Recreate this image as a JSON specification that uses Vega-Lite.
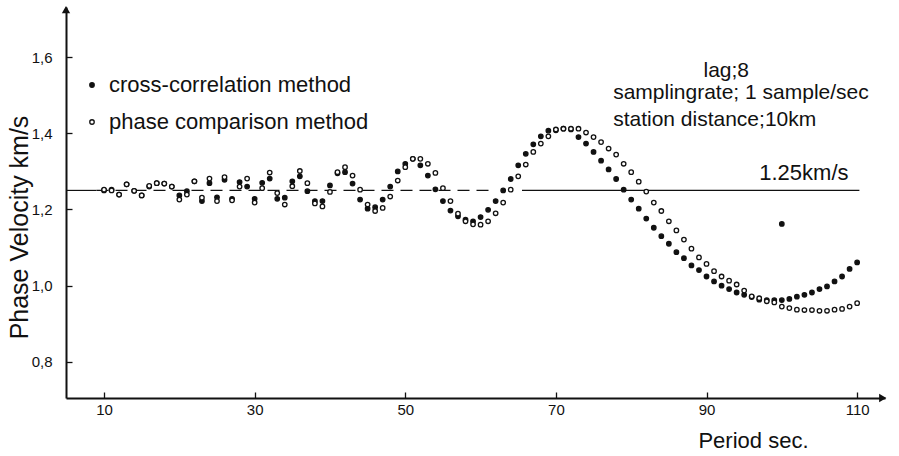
{
  "$schema": "https://vega.github.io/schema/vega-lite/v6.json",
  "width": 819,
  "height": 391,
  "autosize": {"type": "none"},
  "padding": {"left": 66, "top": 7, "right": 14, "bottom": 58},
  "background": "white",
  "config": {"view": {"stroke": null}, "font": "Liberation Sans"},
  "datasets": {
    "pts": [
      {"p":10,"cc":1.25,"pc":1.252},{"p":11,"cc":1.252,"pc":1.25},{"p":12,"cc":1.239,"pc":1.239},{"p":13,"cc":1.266,"pc":1.266},
      {"p":14,"cc":1.249,"pc":1.249},{"p":15,"cc":1.237,"pc":1.237},{"p":16,"cc":1.26,"pc":1.262},{"p":17,"cc":1.269,"pc":1.269},
      {"p":18,"cc":1.268,"pc":1.268},{"p":19,"cc":1.26,"pc":1.26},{"p":20,"cc":1.237,"pc":1.226},{"p":21,"cc":1.248,"pc":1.239},
      {"p":22,"cc":1.274,"pc":1.274},{"p":23,"cc":1.222,"pc":1.231},{"p":24,"cc":1.269,"pc":1.281},{"p":25,"cc":1.232,"pc":1.222},
      {"p":26,"cc":1.278,"pc":1.285},{"p":27,"cc":1.228,"pc":1.224},{"p":28,"cc":1.272,"pc":1.26},{"p":29,"cc":1.26,"pc":1.281},
      {"p":30,"cc":1.228,"pc":1.218},{"p":31,"cc":1.27,"pc":1.256},{"p":32,"cc":1.281,"pc":1.297},{"p":33,"cc":1.228,"pc":1.243},
      {"p":34,"cc":1.231,"pc":1.213},{"p":35,"cc":1.274,"pc":1.261},{"p":36,"cc":1.287,"pc":1.301},{"p":37,"cc":1.248,"pc":1.269},
      {"p":38,"cc":1.222,"pc":1.216},{"p":39,"cc":1.222,"pc":1.208},{"p":40,"cc":1.263,"pc":1.246},{"p":41,"cc":1.295,"pc":1.298},
      {"p":42,"cc":1.298,"pc":1.311},{"p":43,"cc":1.268,"pc":1.289},{"p":44,"cc":1.226,"pc":1.252},{"p":45,"cc":1.202,"pc":1.213},
      {"p":46,"cc":1.206,"pc":1.196},{"p":47,"cc":1.226,"pc":1.204},{"p":48,"cc":1.26,"pc":1.234},{"p":49,"cc":1.3,"pc":1.276},
      {"p":50,"cc":1.32,"pc":1.311},{"p":51,"cc":1.333,"pc":1.333},{"p":52,"cc":1.316,"pc":1.333},{"p":53,"cc":1.289,"pc":1.32},
      {"p":54,"cc":1.253,"pc":1.296},{"p":55,"cc":1.222,"pc":1.256},{"p":56,"cc":1.197,"pc":1.222},{"p":57,"cc":1.182,"pc":1.189},
      {"p":58,"cc":1.173,"pc":1.169},{"p":59,"cc":1.169,"pc":1.161},{"p":60,"cc":1.18,"pc":1.16},{"p":61,"cc":1.199,"pc":1.169},
      {"p":62,"cc":1.222,"pc":1.19},{"p":63,"cc":1.25,"pc":1.218},{"p":64,"cc":1.28,"pc":1.252},{"p":65,"cc":1.316,"pc":1.287},
      {"p":66,"cc":1.346,"pc":1.318},{"p":67,"cc":1.371,"pc":1.351},{"p":68,"cc":1.392,"pc":1.373},{"p":69,"cc":1.407,"pc":1.392},
      {"p":70,"cc":1.408,"pc":1.41},{"p":71,"cc":1.412,"pc":1.412},{"p":72,"cc":1.41,"pc":1.412},{"p":73,"cc":1.39,"pc":1.412},
      {"p":74,"cc":1.373,"pc":1.402},{"p":75,"cc":1.351,"pc":1.39},{"p":76,"cc":1.328,"pc":1.377},{"p":77,"cc":1.305,"pc":1.36},
      {"p":78,"cc":1.28,"pc":1.344},{"p":79,"cc":1.252,"pc":1.32},{"p":80,"cc":1.226,"pc":1.298},{"p":81,"cc":1.202,"pc":1.273},
      {"p":82,"cc":1.176,"pc":1.247},{"p":83,"cc":1.152,"pc":1.218},{"p":84,"cc":1.13,"pc":1.196},{"p":85,"cc":1.11,"pc":1.169},
      {"p":86,"cc":1.088,"pc":1.145},{"p":87,"cc":1.072,"pc":1.121},{"p":88,"cc":1.053,"pc":1.097},{"p":89,"cc":1.041,"pc":1.074},
      {"p":90,"cc":1.024,"pc":1.057},{"p":91,"cc":1.011,"pc":1.038},{"p":92,"cc":1.0,"pc":1.024},{"p":93,"cc":0.991,"pc":1.013},
      {"p":94,"cc":0.982,"pc":1.003},{"p":95,"cc":0.976,"pc":0.987},{"p":96,"cc":0.97,"pc":0.972},{"p":97,"cc":0.963,"pc":0.967},
      {"p":98,"cc":0.962,"pc":0.959},{"p":99,"cc":0.962,"pc":0.956},{"p":100,"cc":0.962,"pc":0.945},{"p":100,"cc":1.162},
      {"p":101,"cc":0.965,"pc":0.941},{"p":102,"cc":0.971,"pc":0.937},{"p":103,"cc":0.976,"pc":0.936},{"p":104,"cc":0.982,"pc":0.936},
      {"p":105,"cc":0.991,"pc":0.934},{"p":106,"cc":0.998,"pc":0.934},{"p":107,"cc":1.011,"pc":0.937},{"p":108,"cc":1.024,"pc":0.939},
      {"p":109,"cc":1.044,"pc":0.945},{"p":110,"cc":1.061,"pc":0.954}
    ],
    "solidref": [
      {"p":4.95,"p2":9,"v":1.25},
      {"p":65.5,"p2":110.3,"v":1.25}
    ],
    "dashref": [
      {"p":9,"p2":61.5,"v":1.25}
    ],
    "arrows": [
      {"p":4.95,"v":1.725,"dir":"up"},
      {"p":113.4,"v":0.705,"dir":"right"}
    ],
    "notes": [
      {"p":89.6,"v":1.564,"t":"lag;8"},
      {"p":77.6,"v":1.505,"t":"samplingrate; 1 sample/sec"},
      {"p":77.6,"v":1.436,"t":"station distance;10km"}
    ],
    "reflabel": [
      {"p":97.0,"v":1.297,"t":"1.25km/s"}
    ]
  },
  "layer": [
    {
      "data": {"name": "solidref"},
      "mark": {"type": "rule", "color": "#111", "strokeWidth": 1.2},
      "encoding": {
        "x": {"field": "p", "type": "quantitative"},
        "x2": {"field": "p2"},
        "y": {"field": "v", "type": "quantitative"}
      }
    },
    {
      "data": {"name": "dashref"},
      "mark": {"type": "rule", "color": "#111", "strokeWidth": 1.2, "strokeDash": [12, 7]},
      "encoding": {
        "x": {"field": "p", "type": "quantitative"},
        "x2": {"field": "p2"},
        "y": {"field": "v", "type": "quantitative"}
      }
    },
    {
      "data": {"name": "pts"},
      "transform": [
        {"fold": ["cc", "pc"], "as": ["m", "val"]},
        {"filter": "isValid(datum.val)"}
      ],
      "mark": {"type": "point", "shape": "circle", "size": 20, "stroke": "#111", "strokeWidth": 1.3, "opacity": 1},
      "encoding": {
        "x": {
          "field": "p", "type": "quantitative",
          "scale": {"domain": [4.95, 113.7], "nice": false, "zero": false},
          "axis": {
            "title": "Period sec.",
            "values": [10, 30, 50, 70, 90, 110],
            "grid": false,
            "tickSize": -6,
            "tickWidth": 1.3,
            "tickColor": "#111",
            "domainColor": "#111",
            "domainWidth": 2,
            "labelColor": "#111",
            "labelFontSize": 15,
            "labelPadding": 10,
            "labelFlush": false,
            "titleFontSize": 22,
            "titleFontWeight": "normal",
            "titleColor": "#111",
            "titleAlign": "right",
            "titleAnchor": "end",
            "titleX": 742,
            "titleY": 42,
            "titleBaseline": "middle"
          }
        },
        "y": {
          "field": "val", "type": "quantitative",
          "scale": {"domain": [0.705, 1.7316], "nice": false, "zero": false},
          "axis": {
            "title": "Phase Velocity  km/s",
            "values": [0.8, 1.0, 1.2, 1.4, 1.6],
            "labelExpr": "replace(format(datum.value, '.1f'), '.', ',')",
            "grid": false,
            "tickSize": -6,
            "tickWidth": 1.3,
            "tickColor": "#111",
            "domainColor": "#111",
            "domainWidth": 2,
            "labelColor": "#111",
            "labelFontSize": 15,
            "labelPadding": 20,
            "titleFontSize": 25,
            "titleFontWeight": "normal",
            "titleColor": "#111",
            "titleX": -47,
            "titleY": 220,
            "titleAngle": -90,
            "titleAlign": "center",
            "titleBaseline": "middle"
          }
        },
        "fill": {
          "field": "m", "type": "nominal",
          "scale": {"domain": ["cc", "pc"], "range": ["#111", "white"]},
          "legend": {
            "title": null,
            "orient": "none",
            "legendX": 15,
            "legendY": 67,
            "labelExpr": "datum.label == 'cc' ? 'cross-correlation method' : 'phase comparison method'",
            "labelFontSize": 22,
            "labelLimit": 0,
            "labelColor": "#111",
            "labelOffset": 6,
            "rowPadding": 15,
            "symbolType": "circle",
            "symbolSize": 20,
            "symbolStrokeColor": "#111",
            "symbolStrokeWidth": 1.3
          }
        }
      }
    },
    {
      "data": {"name": "arrows"},
      "transform": [{"filter": "datum.dir == 'up'"}],
      "mark": {"type": "point", "shape": "triangle-up", "filled": true, "color": "#111", "size": 70, "opacity": 1},
      "encoding": {
        "x": {"field": "p", "type": "quantitative"},
        "y": {"field": "v", "type": "quantitative"}
      }
    },
    {
      "data": {"name": "arrows"},
      "transform": [{"filter": "datum.dir == 'right'"}],
      "mark": {"type": "point", "shape": "triangle-right", "filled": true, "color": "#111", "size": 70, "opacity": 1},
      "encoding": {
        "x": {"field": "p", "type": "quantitative"},
        "y": {"field": "v", "type": "quantitative"}
      }
    },
    {
      "data": {"name": "notes"},
      "mark": {"type": "text", "align": "left", "baseline": "middle", "fontSize": 21, "color": "#111"},
      "encoding": {
        "x": {"field": "p", "type": "quantitative"},
        "y": {"field": "v", "type": "quantitative"},
        "text": {"field": "t"}
      }
    },
    {
      "data": {"name": "reflabel"},
      "mark": {"type": "text", "align": "left", "baseline": "middle", "fontSize": 22, "color": "#111"},
      "encoding": {
        "x": {"field": "p", "type": "quantitative"},
        "y": {"field": "v", "type": "quantitative"},
        "text": {"field": "t"}
      }
    }
  ]
}
